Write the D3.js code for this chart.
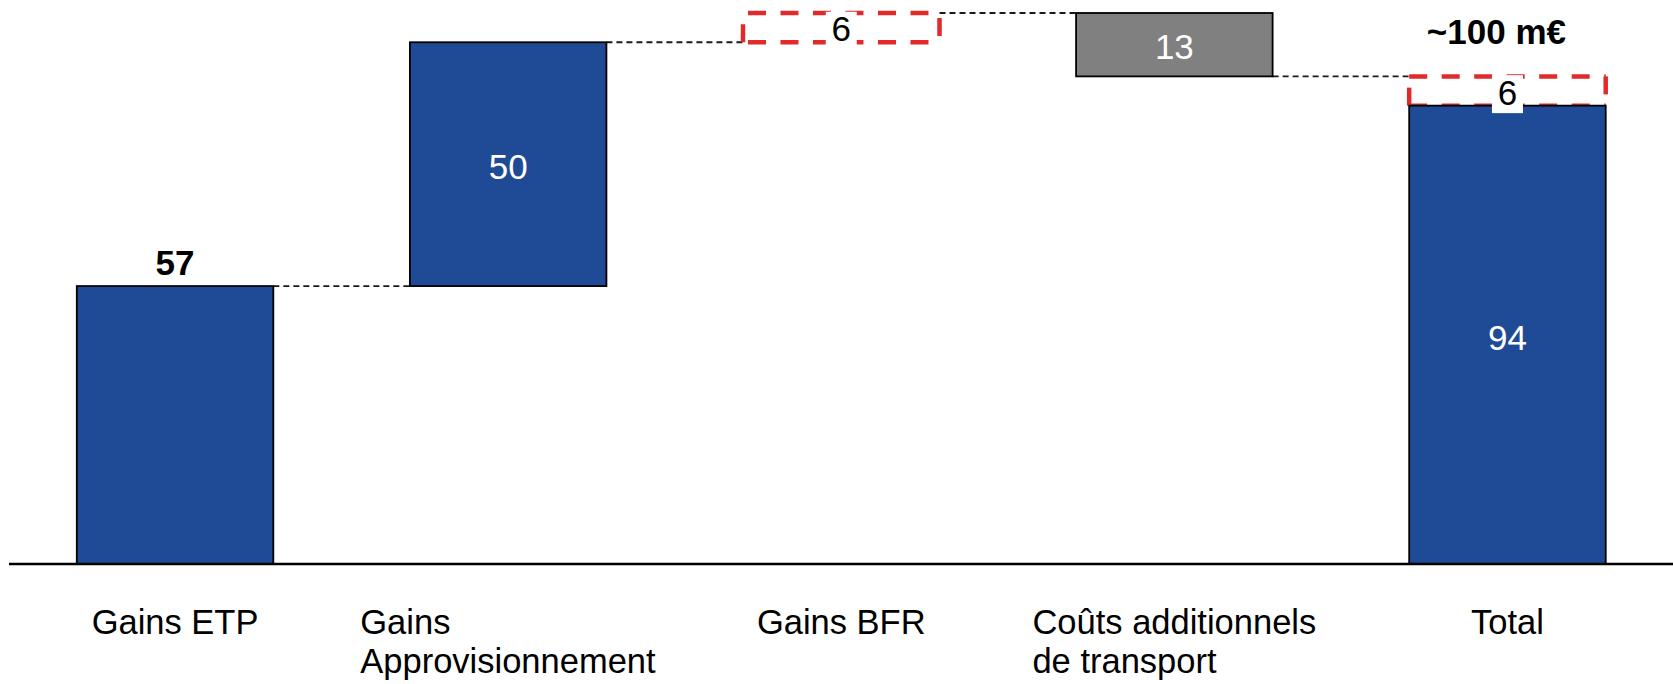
<!DOCTYPE html>
<html>
<head>
<meta charset="utf-8">
<script src="https://cdn.jsdelivr.net/npm/d3@7"></script>
<style>
  html, body { margin: 0; padding: 0; background: #fff; }
  svg { display: block; }
  text { font-family: "Liberation Sans", Arial, sans-serif; }
</style>
</head>
<body>
<svg id="chart" width="1673" height="684"></svg>
<script>
// ---------- data ----------
const categories = ["Gains ETP", "Gains Approvisionnement", "Gains BFR", "Coûts additionnels de transport", "Total"];
const categoryLines = [["Gains ETP"], ["Gains", "Approvisionnement"], ["Gains BFR"], ["Coûts additionnels", "de transport"], ["Total"]];
const values = [57, 50, 6, -13, 94];
const barTypes = ["start", "increase", "pending", "decrease", "total"];
const totalPending = 6;          // dashed part stacked on the total
const totalLabel = "~100 m€";
const yMax = 113;

// ---------- layout ----------
const W = 1673, H = 684;
const svg = d3.select("#chart");
const baseY = 564;

const x = d3.scaleBand().domain(categories).range([8.5, 1674]).paddingInner(0.41).paddingOuter(0.205);
const y = d3.scaleLinear().domain([0, yMax]).range([baseY, 13]);

const BLUE = "#1F4A96", GREY = "#808080", RED = "#E22A2A";

// compute waterfall segments
let cum = 0;
const segs = categories.map((c, i) => {
  const v = values[i];
  let lo, hi;
  if (barTypes[i] === "total") { lo = 0; hi = v; }
  else if (barTypes[i] === "start") { lo = 0; hi = v; cum = v; }
  else { const prev = cum; cum = prev + v; lo = Math.min(prev, cum); hi = Math.max(prev, cum); }
  return { cat: c, value: v, type: barTypes[i], lo, hi, end: barTypes[i] === "total" ? v : cum };
});

// ---------- connectors ----------
const conn = svg.append("g");
const connectors = [
  { from: 0, to: 1, level: segs[0].hi },
  { from: 1, to: 2, level: segs[1].hi },
  { from: 2, to: 3, level: segs[2].hi },
  { from: 3, to: 4, level: segs[3].lo }
];
conn.selectAll("line").data(connectors).join("line")
  .attr("x1", d => x(categories[d.from]) + x.bandwidth())
  .attr("x2", d => x(categories[d.to]))
  .attr("y1", d => y(d.level)).attr("y2", d => y(d.level))
  .attr("stroke", "#1a1a1a").attr("stroke-width", 1.8).attr("stroke-dasharray", "6,4");

// ---------- dashed boxes ----------
function dashedBox(g, x0, x1, y0, y1, offs) {
  const sides = [
    [x0, y0, x1, y0, offs.top],
    [x0, y1, x1, y1, offs.bottom],
    [x1, y0, x1, y1, offs.right],
    [x0, y1, x0, y0, offs.left]
  ];
  g.selectAll(null).data(sides).join("line")
    .attr("x1", d => d[0]).attr("y1", d => d[1]).attr("x2", d => d[2]).attr("y2", d => d[3])
    .attr("stroke", RED).attr("stroke-width", 4.5)
    .attr("stroke-dasharray", "18,14.5").attr("stroke-dashoffset", d => d[4]);
}
const boxes = svg.append("g");
// pending bar (Gains BFR)
segs.filter(s => s.type === "pending").forEach(s => {
  dashedBox(boxes, x(s.cat), x(s.cat) + x.bandwidth(), y(s.hi), y(s.lo),
    { top: 27.5, bottom: 27.5, right: 27.5, left: 0 });
});
// pending part on top of total
const tot = segs.find(s => s.type === "total");
dashedBox(boxes, x(tot.cat), x(tot.cat) + x.bandwidth(), y(tot.value + totalPending), y(tot.value),
  { top: 0, bottom: 0, right: 0, left: 0 });

// ---------- bars ----------
const bars = svg.append("g");
bars.selectAll("rect").data(segs.filter(s => s.type !== "pending")).join("rect")
  .attr("x", d => x(d.cat)).attr("width", x.bandwidth())
  .attr("y", d => y(d.hi)).attr("height", d => y(d.lo) - y(d.hi))
  .attr("fill", d => d.type === "decrease" ? GREY : BLUE)
  .attr("stroke", "#000").attr("stroke-width", 1.8);

// ---------- axis baseline ----------
svg.append("line").attr("x1", 9).attr("x2", W).attr("y1", baseY).attr("y2", baseY)
  .attr("stroke", "#000").attr("stroke-width", 2.4);

// ---------- value labels ----------
const lab = svg.append("g").attr("font-size", 35).attr("text-anchor", "middle");
segs.forEach(s => {
  const cx = x(s.cat) + x.bandwidth() / 2;
  if (s.type === "start") {
    lab.append("text").attr("x", cx).attr("y", y(s.hi) - 11).attr("font-weight", "bold")
      .attr("font-size", 35).attr("fill", "#000").text(Math.abs(s.value));
  } else if (s.type === "pending") {
    const by = y(s.lo) - 1;
    lab.append("rect").attr("x", cx - 15.5).attr("y", by - 29.5).attr("width", 31).attr("height", 38).attr("fill", "#fff");
    lab.append("text").attr("x", cx).attr("y", by).attr("fill", "#000").text(Math.abs(s.value));
  } else {
    const my = (y(s.lo) + y(s.hi)) / 2;
    lab.append("text").attr("x", cx).attr("y", my).attr("dy", "0.42em").attr("fill", "#fff").text(Math.abs(s.value));
  }
});
// pending label on total
{
  const cx = x(tot.cat) + x.bandwidth() / 2;
  const by = y(tot.value) - 1;
  lab.append("rect").attr("x", cx - 15.5).attr("y", by - 29.5).attr("width", 31).attr("height", 38).attr("fill", "#fff");
  lab.append("text").attr("x", cx).attr("y", by).attr("fill", "#000").text(totalPending);
  lab.append("text").attr("x", cx - 11).attr("y", y(tot.value + totalPending) - 32)
    .attr("font-weight", "bold").attr("fill", "#000").text(totalLabel);
}

// ---------- category labels ----------
const cats = svg.append("g").attr("font-size", 34.5).attr("fill", "#000");
categories.forEach((c, i) => {
  const t = cats.append("text").attr("text-anchor", "start");
  categoryLines[i].forEach((line, k) => {
    t.append("tspan").attr("x", 0).attr("y", 634 + k * 38.5).text(line);
  });
  const w = t.node().getBBox().width;
  t.attr("transform", `translate(${x(c) + x.bandwidth() / 2 - w / 2},0)`);
});
</script>
</body>
</html>
